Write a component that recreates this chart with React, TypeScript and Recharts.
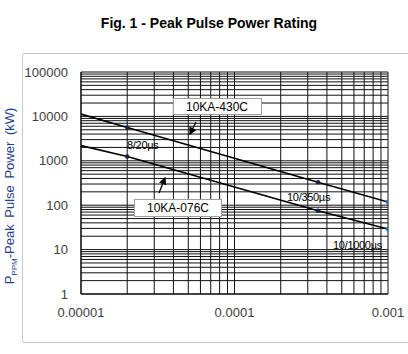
import React from 'react';
import { LineChart, Line, XAxis, YAxis, CartesianGrid, Customized } from 'recharts';

// pulse widths (s) and power ratings (kW)
const PULSE_WIDTHS = [0.00001, 0.00002, 0.00035, 0.001];
const POWER_430C = [11300, 5600, 330, 118];
const POWER_076C = [2200, 1250, 75, 29];

const X_DECADE_LABELS = ['0.00001', '0.0001', '0.001'];
const Y_DECADE_LABELS = ['1', '10', '100', '1000', '10000', '100000'];

const FONT = '"Liberation Sans", Arial, sans-serif';

const logTicks = (fromExp: number, toExp: number) => {
  const out: number[] = [];
  for (let e = fromExp; e < toExp; e++) {
    for (let m = 1; m < 10; m++) out.push(Number((m * Math.pow(10, e)).toPrecision(6)));
  }
  out.push(Math.pow(10, toExp));
  return out;
};

const X_TICKS = logTicks(-5, -3);
const Y_TICKS = logTicks(0, 5);

const isDecade = (v: number) => Math.abs(Math.log10(v) - Math.round(Math.log10(v))) < 1e-6;

const xLabel = (v: number) => (isDecade(v) ? X_DECADE_LABELS[Math.round(Math.log10(v)) + 5] : '');
const yLabel = (v: number) => (isDecade(v) ? Y_DECADE_LABELS[Math.round(Math.log10(v))] : '');

const data = PULSE_WIDTHS.map((x, i) => ({ x, a: POWER_430C[i], b: POWER_076C[i] }));

const renderDot = (props: any) => {
  const { cx, cy, index } = props;
  if (index === 0) return <g key={`d-${index}`} />;
  const fill = index === 3 ? '#1f6fc0' : '#1a2240';
  return <circle key={`d-${index}`} cx={cx} cy={cy} r={2.3} fill={fill} />;
};

const Annotations = () => (
  <g fontFamily={FONT}>
    <defs>
      <marker id="arr" markerWidth="6" markerHeight="6" refX="5" refY="3" orient="auto">
        <path d="M0,0 L6,3 L0,6 z" fill="#000" />
      </marker>
    </defs>
    <rect x={173.5} y={98.5} width={88} height={16} fill="#fff" stroke="#a0a0a0" />
    <text x={217} y={110.5} textAnchor="middle" fontSize={12} fill="#000">10KA-430C</text>
    <line x1={196} y1={122} x2={190} y2={134} stroke="#000" strokeWidth={1.3} markerEnd="url(#arr)" />

    <rect x={134.5} y={199.5} width={87} height={17} fill="#fff" stroke="#a0a0a0" />
    <text x={178} y={212} textAnchor="middle" fontSize={12} fill="#000">10KA-076C</text>
    <line x1={159} y1={193} x2={165} y2={178} stroke="#000" strokeWidth={1.3} markerEnd="url(#arr)" />

    <text x={127} y={149} fontSize={11} fill="#000" letterSpacing={-0.3}>8/20µs</text>
    <text x={287} y={201} fontSize={11} fill="#000" letterSpacing={-0.3}>10/350µs</text>
    <text x={333} y={249} fontSize={11} fill="#000" letterSpacing={-0.3}>10/1000µs</text>

    <text
      transform="translate(14,196) rotate(-90)"
      textAnchor="middle"
      fontSize={13}
      fill="#1f3f8f"
      style={{ whiteSpace: 'pre' }}
      wordSpacing={3}
    >
      P<tspan fontSize={8} dy={3}>PPM</tspan><tspan dy={-3}>-Peak Pulse Power (kW)</tspan>
    </text>
  </g>
);

export default function App() {
  return (
    <div style={{ position: 'absolute', left: 0, top: 0, width: 408, height: 354, background: '#fff', overflow: 'hidden' }}>
      <div
        style={{
          position: 'absolute',
          left: 0,
          top: 15,
          width: 418,
          textAlign: 'center',
          fontFamily: FONT,
          fontWeight: 'bold',
          fontSize: 14,
          color: '#000',
        }}
      >
        Fig. 1 - Peak Pulse Power Rating
      </div>
      <div
        style={{
          position: 'absolute',
          left: 22,
          top: 53,
          width: 420,
          height: 288,
          border: '1px solid #c8c8c8',
          borderRadius: 2,
        }}
      />
      <div style={{ position: 'absolute', left: 0, top: 0 }}>
        <LineChart width={408} height={354} data={data} margin={{ top: 72, right: 20, bottom: 30, left: 21 }}>
          <CartesianGrid stroke="#111" strokeWidth={1} />
          <XAxis
            dataKey="x"
            type="number"
            scale="log"
            domain={[0.00001, 0.001]}
            ticks={X_TICKS}
            interval={0}
            allowDataOverflow
            tickFormatter={xLabel}
            tickLine={false}
            tickSize={6}
            tickMargin={8}
            height={30}
            axisLine={{ stroke: '#000' }}
            tick={{ fill: '#404040', fontSize: 13, fontFamily: FONT }}
          />
          <YAxis
            type="number"
            scale="log"
            domain={[1, 100000]}
            ticks={Y_TICKS}
            interval={0}
            allowDataOverflow
            tickFormatter={yLabel}
            tickLine={false}
            tickSize={6}
            tickMargin={7}
            width={60}
            axisLine={{ stroke: '#000' }}
            tick={{ fill: '#404040', fontSize: 13, fontFamily: FONT }}
          />
          <Line dataKey="a" type="linear" stroke="#000" strokeWidth={1.6} dot={renderDot} isAnimationActive={false} />
          <Line dataKey="b" type="linear" stroke="#000" strokeWidth={1.6} dot={renderDot} isAnimationActive={false} />
          <Customized component={Annotations} />
        </LineChart>
      </div>
    </div>
  );
}
